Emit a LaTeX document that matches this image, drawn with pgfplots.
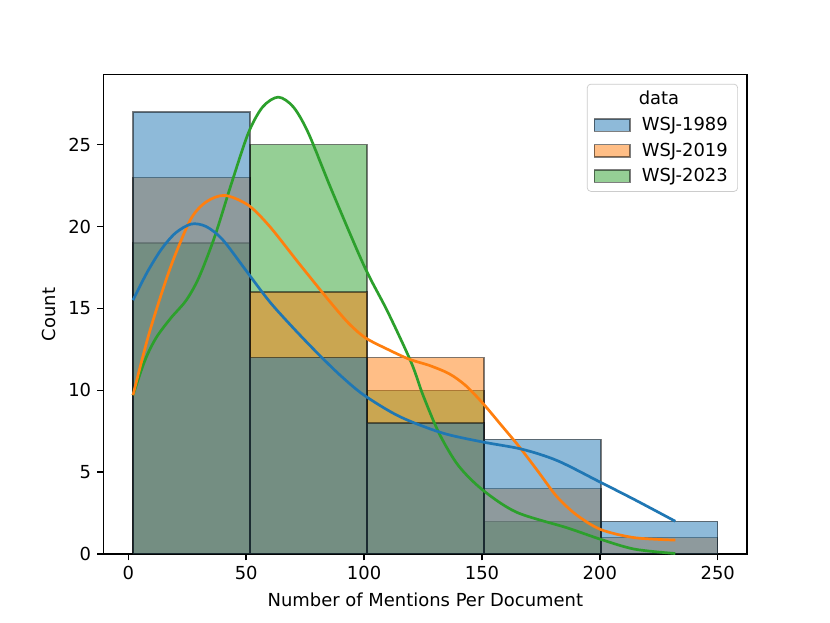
\documentclass[border=0pt]{standalone}
\usepackage{pgfplots}
\pgfplotsset{compat=1.18}
\usepackage{fontspec}
\setmainfont{DejaVu Sans}
\definecolor{c1}{HTML}{1F77B4}
\definecolor{c2}{HTML}{FF7F0E}
\definecolor{c3}{HTML}{2CA02C}
\pgfplotsset{histleg/.style={legend image code/.code={\path[draw=none,fill=none] (0pt,0pt) -- (24.5pt,0pt); \draw[##1, sharp corners] (0pt,-3.4pt) rectangle (20pt,3.4pt);}}}
\begin{document}
\begin{tikzpicture}
\fill[white] (-0.8in,-0.528in) rectangle (5.6in,4.272in);
\useasboundingbox (-0.8in,-0.528in) rectangle (5.6in,4.272in);
\begin{axis}[
  at={(0,0)}, anchor=south west,
  scale only axis, width=4.96in, height=3.696in,
  xmin=-10.4, xmax=262.4, ymin=0, ymax=29.27,
  xtick={0,50,100,150,200,250}, ytick={0,5,10,15,20,25},
  xtick pos=left, ytick pos=left, tick align=outside,
  major tick length=3.5pt,
  every tick/.style={black, line width=0.8pt},
  axis line style={line width=0.8pt},
  tick label style={font=\fontsize{10}{12}\selectfont},
  label style={font=\fontsize{10}{12}\selectfont},
  /pgf/number format/assume math mode=true,
  xlabel={Number of Mentions Per Document}, ylabel={Count},
  legend style={at={(0.986,0.981)}, anchor=north east, draw=black!20,
    rounded corners=2pt, fill=white, fill opacity=0.8, text opacity=1,
    font=\fontsize{10}{12}\selectfont, inner xsep=3.5pt, inner ysep=2pt,
    row sep=1.3pt},
  legend cell align=left,
]
% bars (drawn green, orange, blue as seaborn does)
\addplot[ybar interval, fill=c3, fill opacity=0.5, draw=black, draw opacity=0.5, line width=0.8pt, forget plot]
  coordinates {(2,19)(51.6,25)(101.2,10)(150.8,2)(200.4,0)(250,0)};
\addplot[ybar interval, fill=c2, fill opacity=0.5, draw=black, draw opacity=0.5, line width=0.8pt, forget plot]
  coordinates {(2,23)(51.6,16)(101.2,12)(150.8,4)(200.4,1)(250,1)};
\addplot[ybar interval, fill=c1, fill opacity=0.5, draw=black, draw opacity=0.5, line width=0.8pt, forget plot]
  coordinates {(2,27)(51.6,12)(101.2,8)(150.8,7)(200.4,2)(250,2)};
% KDE curves
\addplot[c3, line width=1.5pt, smooth, forget plot] coordinates {
(2,9.7)(7,11.8)(11.8,13.2)(18,14.4)(24.6,15.5)(30,16.9)(36.7,19.4)(43.7,22.6)(50.9,25.7)(57,27.3)(63.6,27.9)(70,27.3)(76.4,25.7)(86.3,22.2)(100,17.6)(110,14.8)(120,11.7)(125,9.7)(131.9,7.35)(140,5.4)(150.4,3.9)(164.7,2.55)(186.1,1.6)(200.3,0.9)(214.6,0.3)(232,0.03)};
\addplot[c2, line width=1.5pt, smooth, forget plot] coordinates {
(2,9.7)(8.3,13.2)(15,16.3)(20,18.3)(26.7,20.5)(33,21.5)(40.9,21.9)(50.9,21.3)(60,20.0)(72.1,17.8)(85,15.5)(93.4,14.1)(100.6,13.2)(110,12.5)(119.1,11.9)(128,11.5)(136.2,11.0)(143,10.3)(150.4,9.2)(158,7.9)(166.1,6.5)(174,5.0)(181.8,3.5)(190,2.4)(200.3,1.5)(214.6,1.0)(232,0.85)};
\addplot[c1, line width=1.5pt, smooth, forget plot] coordinates {
(2,15.5)(8,17.2)(14,18.6)(20,19.6)(26.7,20.15)(33,20.0)(40,19.2)(50,17.3)(60,15.4)(70,13.8)(80,12.3)(90,10.9)(100,9.7)(115,8.4)(133,7.4)(150,6.85)(167,6.4)(182,5.7)(200,4.4)(215,3.3)(232,2.0)};
% legend
\addlegendimage{empty legend}
\addlegendentry{\hspace*{-1.7pt}data}
\addlegendimage{fill=c1, fill opacity=0.5, draw=black, draw opacity=0.5, line width=0.8pt, histleg}
\addlegendentry{WSJ-1989}
\addlegendimage{fill=c2, fill opacity=0.5, draw=black, draw opacity=0.5, line width=0.8pt, histleg}
\addlegendentry{WSJ-2019}
\addlegendimage{fill=c3, fill opacity=0.5, draw=black, draw opacity=0.5, line width=0.8pt, histleg}
\addlegendentry{WSJ-2023}
\end{axis}
\end{tikzpicture}
\end{document}
